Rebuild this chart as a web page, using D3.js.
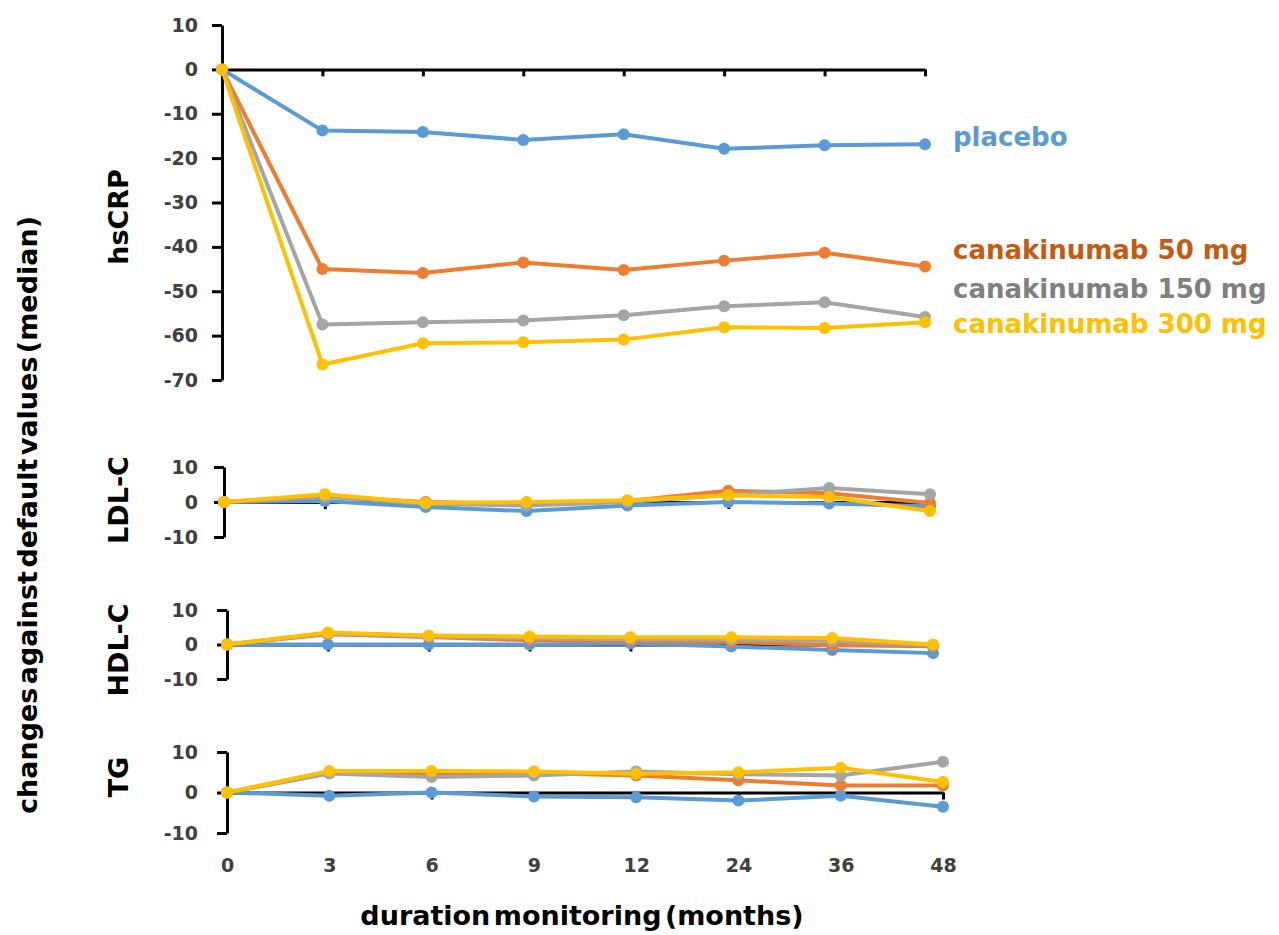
<!DOCTYPE html>
<html>
<head>
<meta charset="utf-8">
<script src="https://cdn.jsdelivr.net/npm/d3@7"></script>
<style>
    body { margin: 0; background: #fff; }
    svg { display: block; }
    .axis path, .axis line { stroke: #000; stroke-width: 3; fill: none; }
    .axis text { font-family: "DejaVu Sans", sans-serif; font-weight: bold; font-size: 19px; fill: #404040; }
    .months text { font-family: "DejaVu Sans", sans-serif; font-weight: bold; font-size: 19px; fill: #404040; }
    .panel-label { font-family: "DejaVu Sans", sans-serif; font-weight: bold; font-size: 27px; fill: #000; }
    .title { font-family: "DejaVu Sans", sans-serif; font-weight: bold; font-size: 27px; fill: #000; word-spacing: -6px; }
    .legend { font-family: "DejaVu Sans", sans-serif; font-weight: bold; font-size: 26px; }
</style>
</head>
<body>
<div id="chart"></div>
<script>
// 数据
const months = ["0", "3", "6", "9", "12", "24", "36", "48"];
const groups = ["placebo", "canakinumab 50 mg", "canakinumab 150 mg", "canakinumab 300 mg"];

const hscrpPlacebo = [0, -13.8, -14.1, -15.9, -14.6, -17.9, -17.1, -16.9];
const hscrp50 = [0, -45.0, -45.9, -43.5, -45.2, -43.1, -41.3, -44.4];
const hscrp150 = [0, -57.5, -57.0, -56.6, -55.4, -53.4, -52.5, -55.8];
const hscrp300 = [0, -66.5, -61.7, -61.5, -60.9, -58.1, -58.3, -57.0];

const ldlPlacebo = [0, 0.3, -1.4, -2.6, -1.0, 0.0, -0.4, -1.2];
const ldl50 = [0, 1.5, 0.0, -0.5, 0.3, 3.2, 2.5, -0.3];
const ldl150 = [0, 1.5, -0.5, -1.0, 0.0, 2.0, 4.0, 2.2];
const ldl300 = [0, 2.2, -0.3, 0.0, 0.5, 1.9, 1.4, -2.6];

const hdlPlacebo = [0, 0.0, 0.0, 0.0, 0.3, -0.6, -1.6, -2.5];
const hdl50 = [0, 3.0, 2.2, 1.2, 1.0, 0.7, -0.2, -0.5];
const hdl150 = [0, 3.2, 2.4, 1.8, 1.5, 1.4, 1.0, -0.3];
const hdl300 = [0, 3.5, 2.6, 2.3, 2.1, 2.1, 1.9, 0.0];

const tgPlacebo = [0, -0.8, 0.0, -1.0, -1.2, -2.0, -0.8, -3.5];
const tg50 = [0, 4.8, 4.5, 4.8, 4.2, 3.0, 1.7, 1.7];
const tg150 = [0, 4.7, 3.8, 4.2, 5.2, 4.5, 4.2, 7.6];
const tg300 = [0, 5.3, 5.3, 5.2, 4.6, 5.0, 6.1, 2.6];

const hscrpTicks = [10, 0, -10, -20, -30, -40, -50, -60, -70];
const smallTicks = [10, 0, -10];

// 颜色
const lineColors = ["#5B9BD5", "#ED7D31", "#A5A5A5", "#FFC000"];
const labelColors = ["#5B9BD5", "#C55A11", "#808080", "#FFC000"];

// 面板布局
const panels = [
    {name: "hsCRP", values: [hscrpPlacebo, hscrp50, hscrp150, hscrp300], domain: [-70, 10], ticks: hscrpTicks, x: [222, 925], y: [380, 25], labelY: 217},
    {name: "LDL-C", values: [ldlPlacebo, ldl50, ldl150, ldl300], domain: [-10, 10], ticks: smallTicks, x: [224, 930], y: [537, 467], labelY: 500},
    {name: "HDL-C", values: [hdlPlacebo, hdl50, hdl150, hdl300], domain: [-10, 10], ticks: smallTicks, x: [227, 933], y: [679, 610], labelY: 650},
    {name: "TG", values: [tgPlacebo, tg50, tg150, tg300], domain: [-10, 10], ticks: smallTicks, x: [227, 943], y: [833, 752], labelY: 777},
];

const width = 1279, height = 935;
const svg = d3.select("#chart").append("svg")
    .attr("width", width)
    .attr("height", height);

panels.forEach(function (p) {
    const x = d3.scalePoint().domain(months).range(p.x);
    const y = d3.scaleLinear().domain(p.domain).range(p.y);
    const g = svg.append("g");

    // 横轴 (y = 0)
    g.append("g")
        .attr("class", "axis")
        .attr("transform", "translate(0," + y(0) + ")")
        .call(d3.axisBottom(x).tickSize(7).tickSizeOuter(0).tickFormat(""));

    // 纵轴 (普通连字符作负号)
    g.append("g")
        .attr("class", "axis")
        .attr("transform", "translate(" + p.x[0] + ",0)")
        .call(d3.axisLeft(y).tickValues(p.ticks).tickSize(10).tickSizeOuter(0)
            .tickPadding(p.x[0] - 198 - 10)
            .tickFormat(function (d) { return String(d); }));

    // 折线和点
    const line = d3.line()
        .x(function (d, i) { return x(months[i]); })
        .y(function (d) { return y(d); });

    p.values.forEach(function (vals, k) {
        g.append("path")
            .attr("d", line(vals))
            .attr("fill", "none")
            .attr("stroke", lineColors[k])
            .attr("stroke-width", 4)
            .attr("stroke-linejoin", "round");
        g.selectAll(".pt" + k)
            .data(vals)
            .enter()
            .append("circle")
            .attr("cx", function (d, i) { return x(months[i]); })
            .attr("cy", function (d) { return y(d); })
            .attr("r", 6)
            .attr("fill", lineColors[k]);
    });

    // 面板名称
    svg.append("text")
        .attr("class", "panel-label")
        .attr("transform", "translate(128," + p.labelY + ") rotate(-90)")
        .attr("text-anchor", "middle")
        .text(p.name);
});

// 月份标签
const xLabels = d3.scalePoint().domain(months).range([227, 943]);
svg.append("g")
    .attr("class", "months")
    .attr("transform", "translate(0,858)")
    .call(d3.axisBottom(xLabels).tickSize(0).tickPadding(0))
    .call(function (g) { g.select(".domain").remove(); });

// 图例 (右侧文字)
const legendY = [146, 259, 298, 333];
svg.selectAll(".legend")
    .data(groups)
    .enter()
    .append("text")
    .attr("class", "legend")
    .attr("x", 953)
    .attr("y", function (d, i) { return legendY[i]; })
    .attr("fill", function (d, i) { return labelColors[i]; })
    .text(function (d) { return d; });

// 轴标题
svg.append("text")
    .attr("class", "title")
    .attr("x", 582)
    .attr("y", 925)
    .attr("text-anchor", "middle")
    .text("duration monitoring (months)");

svg.append("text")
    .attr("class", "title")
    .attr("transform", "translate(37,515) rotate(-90)")
    .attr("text-anchor", "middle")
    .text("changes against default values (median)");
</script>
</body>
</html>
